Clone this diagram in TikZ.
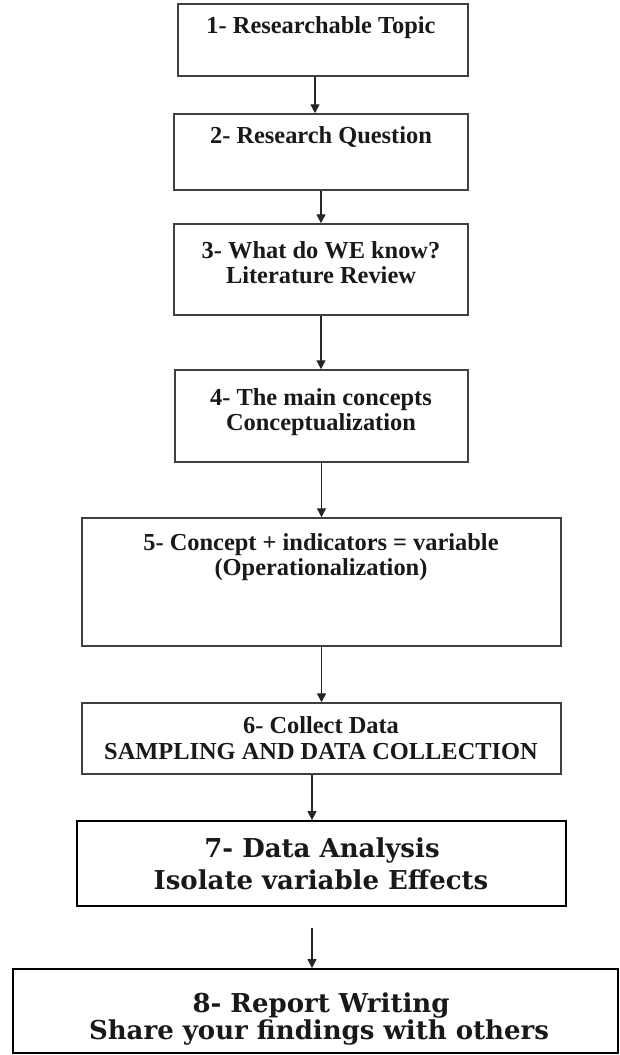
\documentclass[tikz,border=0pt]{standalone}
\usepackage{fontspec}
\setmainfont{Liberation Serif}
\newfontfamily\widefont{DejaVu Serif}
\usetikzlibrary{arrows.meta}
\begin{document}
\begin{tikzpicture}[x=1pt,y=-1pt,
  stepbox/.style={draw=black!75, line width=1.5pt, rectangle, inner sep=0pt, fill=white},
  bigbox/.style={draw=black, line width=1.8pt, rectangle, inner sep=0pt, fill=white},
  lbl/.style={anchor=base, inner sep=0pt, text=black!90,
    font=\fontsize{24.4}{26}\selectfont\bfseries},
  biglbl/.style={anchor=base, inner sep=0pt, text=black!90,
    font=\widefont\fontsize{26}{30}\selectfont\bfseries},
  flow/.style={draw=black!85, line width=1.4pt, -{Triangle[width=9pt,length=9pt]}}
]
\useasboundingbox[fill=white] (0,0) rectangle (619,1055);

% boxes
\node[stepbox, minimum width=290pt, minimum height=72pt]  (b1) at (323,40) {};
\node[stepbox, minimum width=294pt, minimum height=76pt]  (b2) at (321,152) {};
\node[stepbox, minimum width=294pt, minimum height=91pt]  (b3) at (321,269.5) {};
\node[stepbox, minimum width=293pt, minimum height=92pt]  (b4) at (321.5,416) {};
\node[stepbox, minimum width=479pt, minimum height=128pt] (b5) at (321.5,582) {};
\node[stepbox, minimum width=479pt, minimum height=71pt]  (b6) at (321.5,738.5) {};
\node[bigbox,  minimum width=489pt, minimum height=85pt]  (b7) at (321.5,863.5) {};
\node[bigbox,  minimum width=605pt, minimum height=84pt]  (b8) at (315.5,1011) {};

% labels
\node[lbl] (t1)  at (321,33)  {1- Researchable Topic};
\node[lbl] (t2)  at (321,143) {2- Research Question};
\node[lbl] (t3a) at (321,258) {3- What do WE know?};
\node[lbl] (t3b) at (321,283) {Literature Review};
\node[lbl] (t4a) at (321,405) {4- The main concepts};
\node[lbl] (t4b) at (321,430) {Conceptualization};
\node[lbl] (t5a) at (321,550) {5- Concept + indicators = variable};
\node[lbl] (t5b) at (321,575) {(Operationalization)};
\node[lbl] (t6a) at (321,733) {6- Collect Data};
\node[lbl] (t6b) at (321,759) {SAMPLING AND DATA COLLECTION};
\node[biglbl] (t7a) at (322,857)  {7- Data Analysis};
\node[biglbl] (t7b) at (321,889)  {Isolate variable Effects};
\node[biglbl] (t8a) at (321,1012) {8- Report Writing};
\node[biglbl] (t8b) at (319,1039) {Share your findings with others};

% connectors
\draw[flow] ([xshift=-8pt]b1.south) -- ([xshift=-8pt]b1.south |- b2.north);
\draw[flow] (b2.south) -- (b2.south |- b3.north);
\draw[flow] (b3.south) -- (b3.south |- b4.north);
\draw[flow] (b4.south) -- (b4.south |- b5.north);
\draw[flow] (b5.south) -- (b5.south |- b6.north);
\draw[flow] ([xshift=-9.5pt]b6.south) -- ([xshift=-9.5pt]b6.south |- b7.north);
\coordinate (s78) at ([xshift=-9.5pt,yshift=-21pt]b7.south);
\draw[flow] (s78) -- (s78 |- b8.north);
\end{tikzpicture}
\end{document}
